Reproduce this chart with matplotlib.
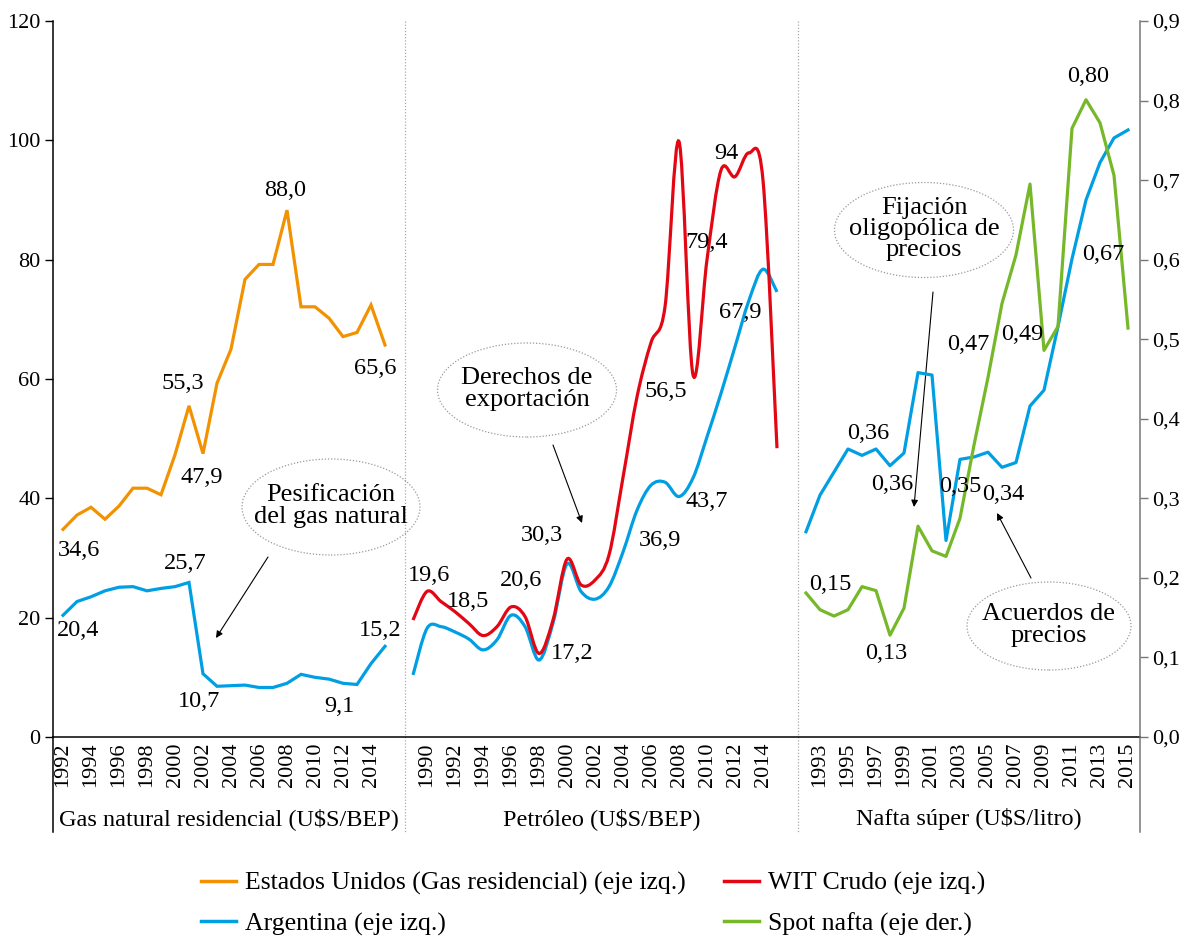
import numpy as np
import matplotlib.pyplot as plt
from matplotlib.path import Path
from matplotlib.patches import PathPatch, Ellipse
from matplotlib.lines import Line2D

plt.rcParams['font.family'] = ['Liberation Serif', 'DejaVu Serif']

# Daten
gas_years = list(range(1992, 2016))
us_gas = [34.8, 37.2, 38.5, 36.5, 38.7, 41.7, 41.7, 40.6, 47.3, 55.5, 47.5, 59.3,
          65.0, 76.7, 79.2, 79.2, 88.3, 72.1, 72.1, 70.2, 67.1, 67.8, 72.4, 65.7]
arg_gas = [20.4, 22.7, 23.5, 24.5, 25.1, 25.2, 24.5, 24.9, 25.2, 25.9, 10.6, 8.5,
           8.6, 8.7, 8.3, 8.3, 9.0, 10.5, 10.0, 9.7, 9.0, 8.8, 12.3, 15.2]

pet_years = list(range(1989, 2016))
wti = [19.6, 24.4, 22.7, 21.0, 19.0, 17.0, 18.5, 21.8, 20.2, 14.0, 19.6, 29.8, 25.5,
       26.3, 30.5, 43.5, 57.0, 66.1, 72.1, 99.8, 60.7, 80.0, 95.0, 93.9, 97.9, 93.3, 48.4]
arg_pet = [10.4, 18.2, 18.5, 17.6, 16.4, 14.6, 16.3, 20.4, 18.5, 12.9, 19.1, 29.0, 24.4,
           23.1, 25.2, 31.0, 38.0, 42.2, 42.7, 40.3, 43.4, 50.3, 57.6, 65.4, 73.2, 78.4, 74.6]

naf_years = list(range(1992, 2016))
arg_naf = [0.258, 0.304, 0.333, 0.362, 0.354, 0.362, 0.341, 0.357, 0.458, 0.455, 0.247, 0.349,
           0.352, 0.358, 0.339, 0.345, 0.416, 0.436, 0.516, 0.601, 0.675, 0.722, 0.753, 0.763]
spot = [0.181, 0.160, 0.152, 0.160, 0.189, 0.184, 0.128, 0.162, 0.265, 0.234, 0.227, 0.275,
        0.367, 0.452, 0.545, 0.606, 0.695, 0.486, 0.516, 0.765, 0.801, 0.772, 0.706, 0.514]

gas_ticks = list(range(1992, 2015, 2))
pet_ticks = list(range(1990, 2015, 2))
naf_ticks = list(range(1993, 2016, 2))

panel_names = ['Gas natural residencial (U$S/BEP)', 'Petróleo (U$S/BEP)',
               'Nafta súper (U$S/litro)']

# Farben
c_us = '#F39200'
c_wti = '#E30613'
c_arg = '#009FE3'
c_spot = '#76B82A'

W, H = 1182, 936
# Panel-Versatz (ein Jahr = eine Einheit)
gas_base = 1992 - 10 / 14
pet_base = 1989 - 360 / 14
naf_base = 1992 - 753 / 14
xmax = 1087 / 14
seps = [352 / 14, 745 / 14]


def fpx(x, y):
    return (x / W, 1 - y / H)


def smooth(x, y):
    pts = np.column_stack([x, y]).astype(float)
    verts = [pts[0]]
    codes = [Path.MOVETO]
    n = len(pts)
    for i in range(n - 1):
        p0 = pts[i - 1] if i > 0 else pts[i]
        p1, p2 = pts[i], pts[i + 1]
        p3 = pts[i + 2] if i + 2 < n else pts[i + 1]
        verts += [p1 + (p2 - p0) / 6, p2 - (p3 - p1) / 6, p2]
        codes += [Path.CURVE4] * 3
    return Path(verts, codes)


fig = plt.figure(figsize=(W / 100, H / 100), dpi=100)
ax = fig.add_axes([53 / W, (H - 737) / H, 1087 / W, 716 / H])
ax2 = ax.twinx()

xg = np.array(gas_years) - gas_base
xp = np.array(pet_years) - pet_base
xn = np.array(naf_years) - naf_base

lw = 2.3
ax.plot(xg, us_gas, color=c_us, lw=lw, solid_joinstyle='miter')
ax.plot(xg, arg_gas, color=c_arg, lw=lw, solid_joinstyle='miter')
ax.add_patch(PathPatch(smooth(xp, arg_pet), fill=False, ec=c_arg, lw=lw))
ax.add_patch(PathPatch(smooth(xp, wti), fill=False, ec=c_wti, lw=lw))
ax2.plot(xn, arg_naf, color=c_arg, lw=lw)
ax2.plot(xn, spot, color=c_spot, lw=lw)

ax.set_xlim(0, xmax)
ax.set_ylim(0, 120)
ax2.set_ylim(0, 0.9)
ax.set_yticks(range(0, 121, 20))
ax2.set_yticks(np.arange(0, 0.91, 0.1))
ax2.set_yticklabels([('%.1f' % v).replace('.', ',') for v in np.arange(0, 0.91, 0.1)])

xt = list(np.array(gas_ticks) - gas_base) + list(np.array(pet_ticks) - pet_base) + \
    list(np.array(naf_ticks) - naf_base)
ax.set_xticks(xt)
ax.set_xticklabels([str(t) for t in gas_ticks + pet_ticks + naf_ticks], rotation=90)
ax.tick_params(axis='x', length=0, pad=4, labelsize=16)
ax.tick_params(axis='y', length=6, width=1, labelsize=16, pad=3)
ax2.tick_params(axis='y', length=6, width=1, labelsize=16, pad=3, color='#777777')

for s in ['top', 'right']:
    ax.spines[s].set_visible(False)
for s in ['top', 'left', 'bottom']:
    ax2.spines[s].set_visible(False)
ax.spines['left'].set_linewidth(1.1)
ax.spines['bottom'].set_linewidth(1.1)
ax2.spines['right'].set_color('#777777')
ax2.spines['right'].set_linewidth(1.1)

# Verlängerte Achsen und Trennlinien
ext = -95 / 716
ax.plot([0, 0], [0, ext], transform=ax.transAxes, clip_on=False, color='black', lw=1.1)
ax.plot([1, 1], [0, ext], transform=ax.transAxes, clip_on=False, color='#777777', lw=1.1)
for s in seps:
    ax.plot([s / xmax, s / xmax], [1, ext], transform=ax.transAxes, clip_on=False,
            color='#aaaaaa', lw=0.9, ls=(0, (1, 1.5)))

mids = [(0 + seps[0]) / 2 / xmax, (seps[0] + seps[1]) / 2 / xmax, (seps[1] + xmax) / 2 / xmax]
for m, name in zip(mids, panel_names):
    ax.text(m, -82 / 716, name, transform=ax.transAxes, ha='center', va='center', fontsize=17.5)

# Wertebeschriftungen: (Achse, x, y, Index, Text, dx, dy) in Pixeln
labels = [
    (ax, xg, us_gas, 0, '34,6', 16, -21), (ax, xg, arg_gas, 0, '20,4', 15, -15),
    (ax, xg, us_gas, 9, '55,3', -6, 22), (ax, xg, us_gas, 10, '47,9', -1, -24),
    (ax, xg, us_gas, 16, '88,0', -2, 20), (ax, xg, us_gas, 23, '65,6', -10, -24),
    (ax, xg, arg_gas, 9, '25,7', -4, 19), (ax, xg, arg_gas, 10, '10,7', -4, -28),
    (ax, xg, arg_gas, 21, '9,1', -18, -22), (ax, xg, arg_gas, 23, '15,2', -5, 16),
    (ax, xp, wti, 1, '19,6', 2, 16), (ax, xp, wti, 4, '18,5', -1, 22),
    (ax, xp, wti, 7, '20,6', 10, 26), (ax, xp, wti, 11, '30,3', -25, 24),
    (ax, xp, wti, 9, '17,2', 33, 0), (ax, xp, arg_pet, 16, '36,9', 23, -30),
    (ax, xp, arg_pet, 19, '43,7', 28, -5), (ax, xp, wti, 16, '56,5', 29, 5),
    (ax, xp, wti, 21, '79,4', 0, 17), (ax, xp, wti, 22, '94', 5, 17),
    (ax, xp, arg_pet, 24, '67,9', -9, -12),
    (ax2, xn, arg_naf, 4, '0,36', 6, 22), (ax2, xn, arg_naf, 6, '0,36', 2, -19),
    (ax2, xn, arg_naf, 11, '0,35', 0, -27), (ax2, xn, arg_naf, 14, '0,34', 1, -27),
    (ax2, xn, spot, 1, '0,15', 10, 25), (ax2, xn, spot, 6, '0,13', -4, -18),
    (ax2, xn, spot, 13, '0,47', -20, 33), (ax2, xn, spot, 17, '0,49', -22, 16),
    (ax2, xn, spot, 20, '0,80', 2, 23), (ax2, xn, arg_naf, 20, '0,67', 17, -55),
]
for a, xs, ys, i, t, dx, dy in labels:
    a.annotate(t, xy=(xs[i], ys[i]), xytext=(dx, dy), textcoords='offset pixels',
               ha='center', va='center', fontsize=17.5)

# Kommentare mit Ellipsen
notes = [
    ('Pesificación\ndel gas natural', (331, 507), 178, 96, (268, 557), (216, 638)),
    ('Derechos de\nexportación', (527, 390), 179, 94, (553, 445), (582, 523)),
    ('Fijación\noligopólica de\nprecios', (924, 230), 179, 95, (933, 292), (914, 507)),
    ('Acuerdos de\nprecios', (1049, 626), 164, 88, (1031, 578), (997, 513)),
]
for t, c, w, h, tail, head in notes:
    fig.add_artist(Ellipse(fpx(*c), w / W, h / H, transform=fig.transFigure, fill=False,
                           ec='#999999', lw=0.9, ls=(0, (1, 1.5))))
    fig.text(*fpx(c[0], c[1] - 1), t, ha='center', va='center', fontsize=19, linespacing=0.95)
    ax.annotate('', xy=fpx(*head), xycoords='figure fraction', xytext=fpx(*tail),
                textcoords='figure fraction',
                arrowprops=dict(arrowstyle='-|>', color='black', lw=0.8, mutation_scale=10,
                                shrinkA=0, shrinkB=0))

handles = [Line2D([], [], color=c_us, lw=2.5), Line2D([], [], color=c_arg, lw=2.5),
           Line2D([], [], color=c_wti, lw=2.5), Line2D([], [], color=c_spot, lw=2.5)]
names = ['Estados Unidos (Gas residencial) (eje izq.)', 'Argentina (eje izq.)',
         'WIT Crudo (eje izq.)', 'Spot nafta (eje der.)']
fig.legend(handles, names, loc='upper left', bbox_to_anchor=fpx(201, 872), ncol=2,
           frameon=False, fontsize=18.5, handlelength=1.36, handletextpad=0.35,
           columnspacing=1.5, labelspacing=0.66, borderpad=0, borderaxespad=0)

fig.savefig('out.png', dpi=100)
